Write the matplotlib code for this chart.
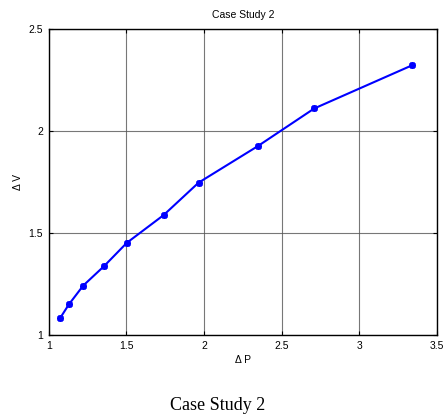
import matplotlib
matplotlib.use("Agg")
import matplotlib.pyplot as plt

dP = [1.073, 1.130, 1.222, 1.357, 1.503, 1.740, 1.965, 2.346, 2.710, 3.338]
dV = [1.082, 1.150, 1.242, 1.338, 1.452, 1.588, 1.747, 1.926, 2.111, 2.322]
xticks = [1, 1.5, 2, 2.5, 3, 3.5]
yticks = [1, 1.5, 2, 2.5]

plt.rcParams['font.family'] = ['Liberation Sans', 'DejaVu Sans']
fig = plt.figure(figsize=(4.45, 4.16), dpi=100)
ax = fig.add_axes([0.1094, 0.1947, 0.8726, 0.7353])
ax.plot(dP, dV, color='#0000ff', lw=1.5, marker=(8, 2, 0), ms=5, mew=1.3)
ax.set_xlim(1, 3.5)
ax.set_ylim(1, 2.5)
ax.set_xticks(xticks)
ax.set_xticklabels(['1', '1.5', '2', '2.5', '3', '3.5'])
ax.set_yticks(yticks)
ax.set_yticklabels(['1', '1.5', '2', '2.5'])
ax.tick_params(direction='in', labelsize=7.5, length=3, width=0.8, top=True, right=True, pad=4)
ax.grid(True, color='#555555', lw=0.8, alpha=0.8)
for s in ax.spines.values():
    s.set_linewidth(1.0)
ax.set_title('Case Study 2', fontsize=7.5, pad=8)
ax.set_xlabel('Δ P', fontsize=7.5, labelpad=3)
ax.set_ylabel('Δ V', fontsize=7.5)
ax.yaxis.set_label_coords(-0.065, 0.5)
fig.text(0.488, 0.025, 'Case Study 2', family='Liberation Serif', fontsize=13, ha='center', va='center')
fig.savefig('out.png', dpi=100)
